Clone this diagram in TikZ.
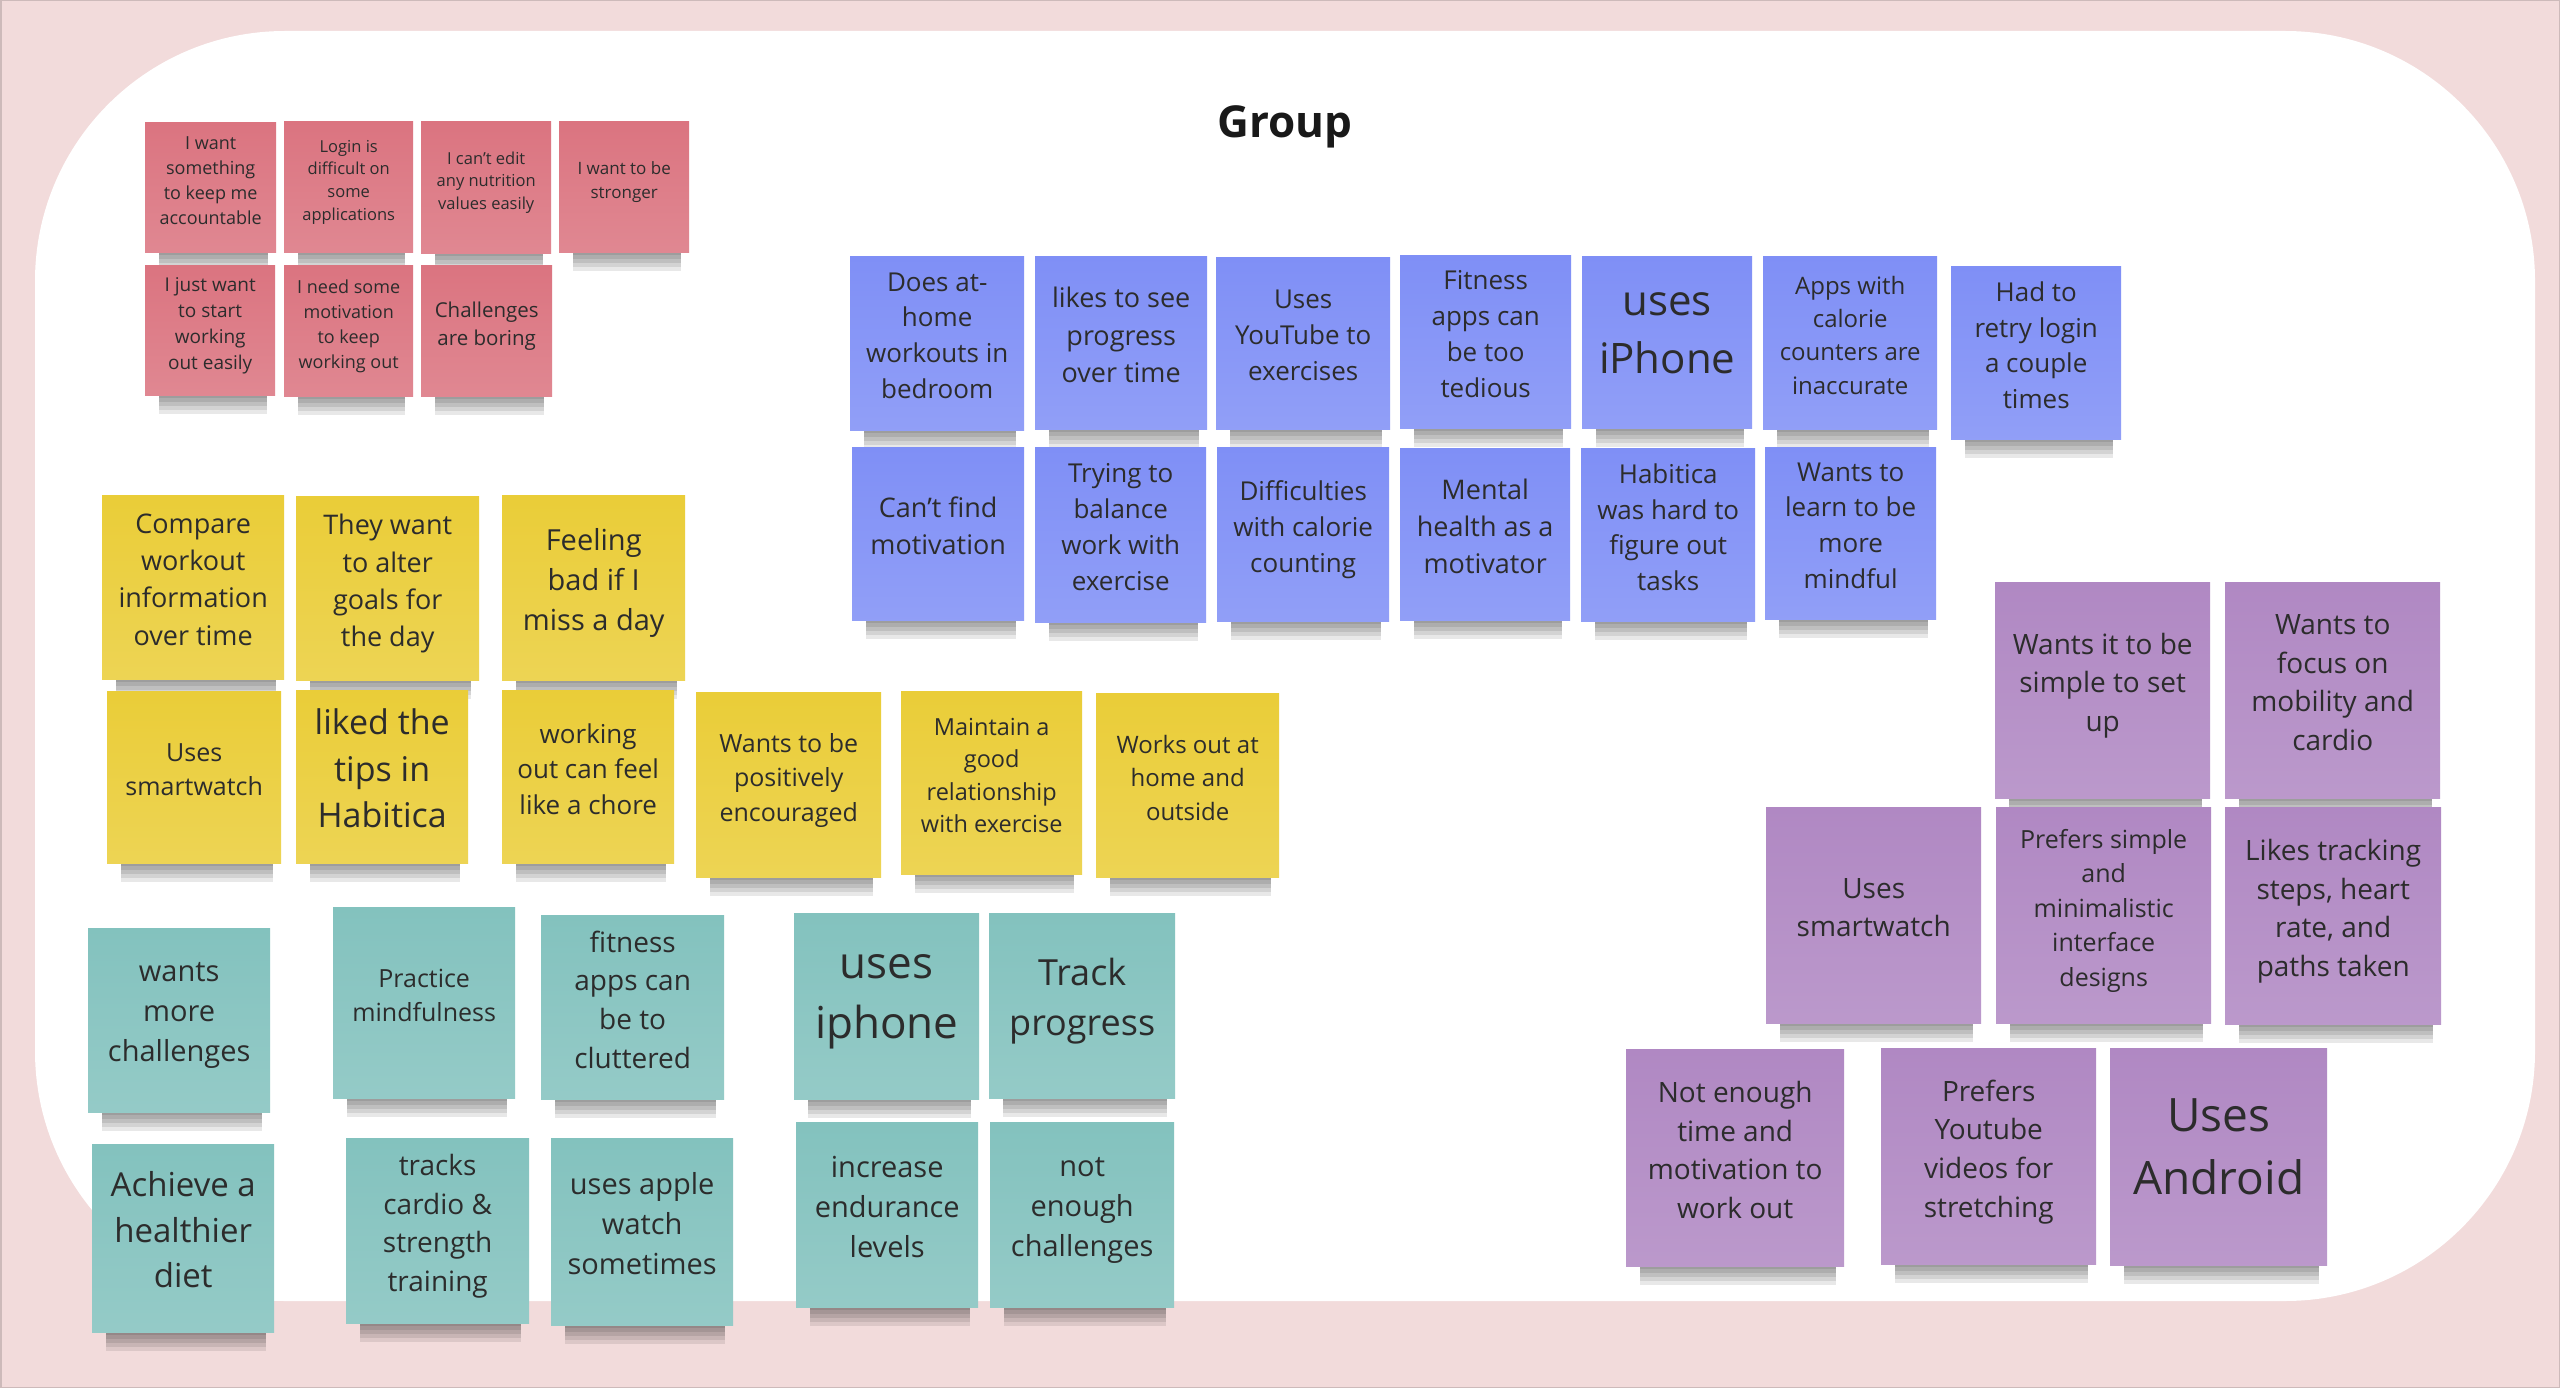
\documentclass[tikz,border=0pt]{standalone}
\usepackage{fontspec}
\setmainfont{Open Sans}

\definecolor{paperpink}{HTML}{F2DBDB}
\definecolor{frameline}{HTML}{CDBABA}
\definecolor{notetext}{HTML}{2C2C2C}
\definecolor{rednote}{HTML}{DB7480}
\definecolor{bluenote}{HTML}{7F8FF6}
\definecolor{yellownote}{HTML}{EACD38}
\definecolor{tealnote}{HTML}{83C2BE}
\definecolor{purplenote}{HTML}{B088C3}

\begin{document}
\begin{tikzpicture}[x=1pt, y=-1pt]

% Estilo de las notas adhesivas
\tikzset{
    sticky/.style={
        anchor=north west,
        inner sep=0pt,
        align=center,
        text=notetext
    }
}

% =============================================
% TABLERO
% =============================================
\useasboundingbox (0,0) rectangle (2560,1388);
\fill[paperpink] (0,0) rectangle (2560,1388);
\draw[frameline, line width=1.5pt] (0.75,0.75) rectangle (2559.25,1387.25);
\fill[white, rounded corners=250pt] (35,31) rectangle (2535,1301);

\node[anchor=base, font=\bfseries\fontsize{44}{52}\selectfont, text=black!90] (title) at (1285,138) {Group};

% =============================================
% NOTAS (nombre/color/x/y/ancho/alto/letra/texto)
% =============================================
\foreach \nm/\col/\x/\y/\w/\h/\fs/\txt in {
    % rojas
    r1/rednote/145/122/131/130/18/{I want\\something\\to keep me\\accountable},
    r2/rednote/284/121/129/131/16.5/{Login is\\difficult on\\some\\applications},
    r3/rednote/421/121/130/132/16.5/{I can{\char39}t edit\\any nutrition\\values easily},
    r4/rednote/559/121/130/131/17/{I want to be\\stronger},
    r5/rednote/145/265/130/130/19/{I just want\\to start\\working\\out easily},
    r6/rednote/284/265/129/131/18/{I need some\\motivation\\to keep\\working out},
    r7/rednote/421/265/131/131/20.5/{Challenges\\are boring},
    % azules
    b1/bluenote/850/256/174/174/26/{Does at-\\home\\workouts in\\bedroom},
    b2/bluenote/1035/256/172/173/27/{likes to see\\progress\\over time},
    b3/bluenote/1216/257/174/172/26/{Uses\\YouTube to\\exercises},
    b4/bluenote/1400/255/171/173/26/{Fitness\\apps can\\be too\\tedious},
    b5/bluenote/1582/256/170/172/42/{uses\\iPhone},
    b6/bluenote/1763/256/174/173/24/{Apps with\\calorie\\counters are\\inaccurate},
    b7/bluenote/1951/266/170/173/26/{Had to\\retry login\\a couple\\times},
    b8/bluenote/852/447/172/173/27/{Can{\char39}t find\\motivation},
    b9/bluenote/1035/447/171/175/26/{Trying to\\balance\\work with\\exercise},
    b10/bluenote/1217/447/172/174/26/{Difficulties\\with calorie\\counting},
    b11/bluenote/1400/448/170/172/27/{Mental\\health as a\\motivator},
    b12/bluenote/1581/448/174/173/26/{Habitica\\was hard to\\figure out\\tasks},
    b13/bluenote/1765/447/171/172/26/{Wants to\\learn to be\\more\\mindful},
    % amarillas
    y1/yellownote/102/495/182/184/27/{Compare\\workout\\information\\over time},
    y2/yellownote/296/496/183/184/27/{They want\\to alter\\goals for\\the day},
    y3/yellownote/502/495/183/185/29/{Feeling\\bad if I\\miss a day},
    y4/yellownote/107/691/174/172/25/{Uses\\smartwatch},
    y5/yellownote/296/690/172/173/34/{liked the\\tips in\\Habitica},
    y6/yellownote/502/690/172/173/26/{working\\out can feel\\like a chore},
    y7/yellownote/696/692/185/185/25/{Wants to be\\positively\\encouraged},
    y8/yellownote/901/691/181/183/23.5/{Maintain a\\good\\relationship\\with exercise},
    y9/yellownote/1096/693/183/184/24/{Works out at\\home and\\outside},
    % verdes
    t1/tealnote/88/928/182/184/29/{wants\\more\\challenges},
    t2/tealnote/333/907/182/191/25/{Practice\\mindfulness},
    t3/tealnote/541/915/183/184/28/{fitness\\apps can\\be to\\cluttered},
    t4/tealnote/794/913/185/186/44/{uses\\iphone},
    t5/tealnote/989/913/186/185/36/{Track\\progress},
    t6/tealnote/92/1144/182/188/33/{Achieve a\\healthier\\diet},
    t7/tealnote/346/1138/183/185/28/{tracks\\cardio \&\\strength\\training},
    t8/tealnote/551/1138/182/187/29/{uses apple\\watch\\sometimes},
    t9/tealnote/796/1122/182/185/29/{increase\\endurance\\levels},
    t10/tealnote/990/1122/184/185/29/{not\\enough\\challenges},
    % moradas
    p1/purplenote/1995/582/215/216/28/{Wants it to be\\simple to set\\up},
    p2/purplenote/2225/582/215/216/28/{Wants to\\focus on\\mobility and\\cardio},
    p3/purplenote/1766/807/215/216/28/{Uses\\smartwatch},
    p4/purplenote/1996/807/215/216/25/{Prefers simple\\and\\minimalistic\\interface\\designs},
    p5/purplenote/2225/807/216/217/28/{Likes tracking\\steps, heart\\rate, and\\paths taken},
    p6/purplenote/1626/1049/218/217/28/{Not enough\\time and\\motivation to\\work out},
    p7/purplenote/1881/1048/215/216/28/{Prefers\\Youtube\\videos for\\stretching},
    p8/purplenote/2110/1048/217/217/46/{Uses\\Android}%
}{
    \pgfmathsetmacro\ls{1.38*\fs}
    \pgfmathsetmacro\td{0.24*\fs+9}
    % sombra bajo la nota
    \foreach \k in {3,7,11,15,19}
        \fill[black, opacity=0.09] (\x+14,\y+\h) rectangle (\x+\w-8,\y+\h+\k);
    \node[sticky, top color=\col, bottom color=\col!86!white,
          minimum width=\w*1pt, minimum height=\h*1pt, text depth=\td pt,
          font=\fontsize{\fs}{\ls}\selectfont] (\nm) at (\x,\y) {\txt};
}

\end{tikzpicture}
\end{document}
